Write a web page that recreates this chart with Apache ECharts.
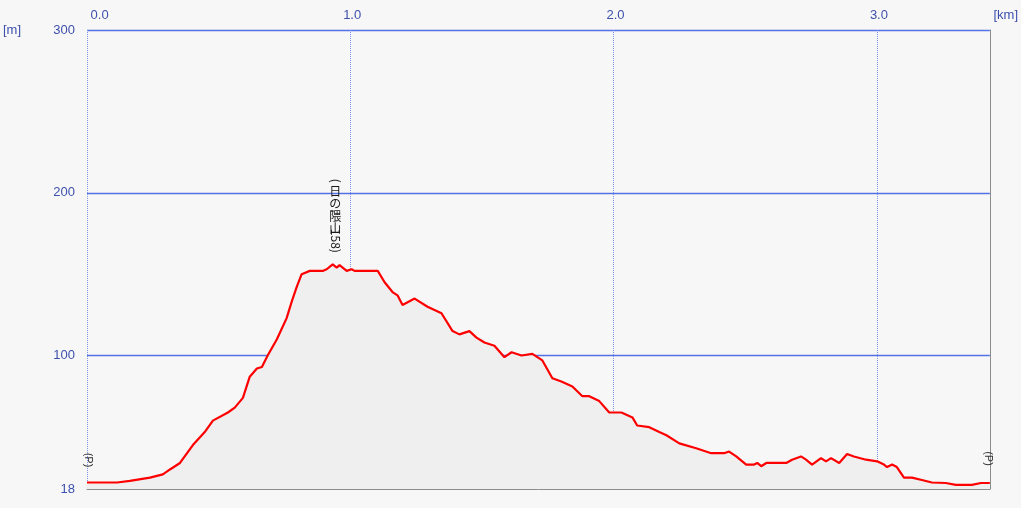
<!DOCTYPE html>
<html>
<head>
<meta charset="utf-8">
<script src="https://cdn.jsdelivr.net/npm/echarts@6/dist/echarts.min.js"></script>
<style>
  html, body { margin: 0; padding: 0; background: #f7f7f7; }
  #chart { width: 1021px; height: 508px; }
</style>
</head>
<body>
<div id="chart"></div>
<script>
// distance along the route [km]
const dist = [
  0.000, 0.114, 0.163, 0.239, 0.288, 0.315, 0.353, 0.402, 0.447, 0.478,
  0.535, 0.561, 0.592, 0.618, 0.645, 0.664, 0.686, 0.721, 0.758, 0.777,
  0.796, 0.815, 0.846, 0.895, 0.910, 0.933, 0.948, 0.959, 0.986, 1.005,
  1.016, 1.104, 1.130, 1.160, 1.179, 1.198, 1.244, 1.293, 1.346, 1.388,
  1.414, 1.452, 1.479, 1.509, 1.547, 1.585, 1.612, 1.650, 1.691, 1.729,
  1.767, 1.801, 1.843, 1.881, 1.907, 1.945, 1.983, 2.029, 2.071, 2.089,
  2.135, 2.173, 2.200, 2.249, 2.313, 2.370, 2.419, 2.438, 2.465, 2.503,
  2.533, 2.545, 2.560, 2.579, 2.609, 2.655, 2.677, 2.711, 2.730, 2.753,
  2.787, 2.806, 2.825, 2.856, 2.886, 2.912, 2.958, 3.000, 3.026, 3.038,
  3.057, 3.075, 3.102, 3.132, 3.170, 3.208, 3.261, 3.299, 3.360, 3.394,
  3.428
];
// elevation [m]
const elev = [
  22, 22, 23, 25, 27, 30, 34, 45, 53, 60,
  65, 68, 74, 87, 92, 93, 100, 110, 123, 133,
  142, 150, 152, 152, 153, 156, 154, 155.5, 152, 153,
  152, 152, 145, 139, 137, 131, 135, 130, 126, 115,
  113, 115, 111, 108, 106, 99, 102, 100, 101, 97,
  86, 84, 81, 75, 75, 72, 65, 65, 62, 57,
  56, 53, 51, 46, 43, 40, 40, 41, 38, 33,
  33, 34, 32, 34, 34, 34, 36, 38, 36, 33,
  37, 35, 37, 34, 39.5, 38, 36, 35, 33, 31.5,
  33, 31.5, 25, 25, 23.5, 22, 21.7, 20.5, 20.5, 21.7,
  21.7
];
const yTicks = [18, 100, 200, 300];
const peakName = '日\nの\n隈\n山';
const peakHeight = '158)';
const endMark = '(P)';

const X_MAX = dist[dist.length - 1];
const blue = '#5272e6';
const labelBlue = '#3d50ae';
const font = 'Liberation Sans';

const chart = echarts.init(document.getElementById('chart'));

const option = {
  backgroundColor: '#f7f7f7',
  animation: false,
  grid: { left: 87, right: 30, top: 30, bottom: 19 },
  graphic: [
    { type: 'text', left: 3, top: 24, style: { text: '[m]', fill: labelBlue, font: '13px ' + font } }
  ],
  xAxis: [
    {
      type: 'value',
      position: 'top',
      min: 0,
      max: X_MAX,
      interval: 1,
      axisLine: { show: false },
      axisTick: { show: false },
      axisLabel: {
        color: labelBlue,
        fontSize: 13,
        fontFamily: font,
        margin: 8,
        alignMinLabel: 'left',
        alignMaxLabel: 'left',
        formatter: function (v) {
          return v >= X_MAX - 1e-6 ? ' [km]' : ' ' + v.toFixed(1);
        }
      },
      splitLine: {
        show: true,
        showMaxLine: false,
        lineStyle: { color: '#7d93ea', width: 1, type: [1, 1] }
      }
    },
    {
      type: 'value',
      position: 'bottom',
      min: 0,
      max: X_MAX,
      axisLine: { show: true, onZero: false, lineStyle: { color: '#8c8c8c', width: 1 } },
      axisTick: { show: false },
      axisLabel: { show: false },
      splitLine: { show: false }
    }
  ],
  yAxis: [
    {
      type: 'value',
      min: 18,
      max: 300,
      axisLine: { show: false },
      axisTick: { show: false, customValues: yTicks },
      axisLabel: {
        customValues: yTicks,
        color: labelBlue,
        fontSize: 13,
        fontFamily: font,
        margin: 12
      },
      splitLine: {
        show: true,
        showMinLine: false,
        lineStyle: { color: blue, width: 1.3 }
      }
    },
    {
      type: 'value',
      position: 'right',
      min: 18,
      max: 300,
      axisLine: { show: true, onZero: false, lineStyle: { color: '#8c8c8c', width: 1 } },
      axisTick: { show: false },
      axisLabel: { show: false },
      splitLine: { show: false }
    }
  ],
  series: [
    {
      type: 'line',
      xAxisIndex: 0,
      yAxisIndex: 0,
      data: dist.map((d, i) => [d, elev[i]]),
      showSymbol: false,
      lineStyle: { color: '#ff0000', width: 2.2 },
      areaStyle: { color: '#efefef', opacity: 1, origin: 'start' },
      markPoint: {
        silent: true,
        symbol: 'circle',
        symbolSize: 1,
        itemStyle: { color: 'rgba(0,0,0,0)' },
        label: {
          show: true,
          color: '#1a1a1a',
          fontSize: 12,
          fontFamily: 'Noto Sans CJK JP',
          align: 'center',
          verticalAlign: 'middle'
        },
        data: [
          { type: 'max', label: { formatter: '(', rotate: -90, position: [3, -83] } },
          { type: 'max', label: { formatter: peakName, lineHeight: 12.5, position: [3, -54] } },
          { type: 'max', label: { formatter: peakHeight, rotate: -90, position: [3, -23] } },
          { coord: [dist[0], elev[0]], label: { formatter: endMark, rotate: -90, fontSize: 11, fontFamily: font, color: '#333', position: [2, -22] } },
          { coord: [X_MAX, elev[elev.length - 1]], label: { formatter: endMark, rotate: -90, fontSize: 11, fontFamily: font, color: '#333', position: [-1, -24] } }
        ]
      }
    }
  ]
};

chart.setOption(option);
</script>
</body>
</html>
